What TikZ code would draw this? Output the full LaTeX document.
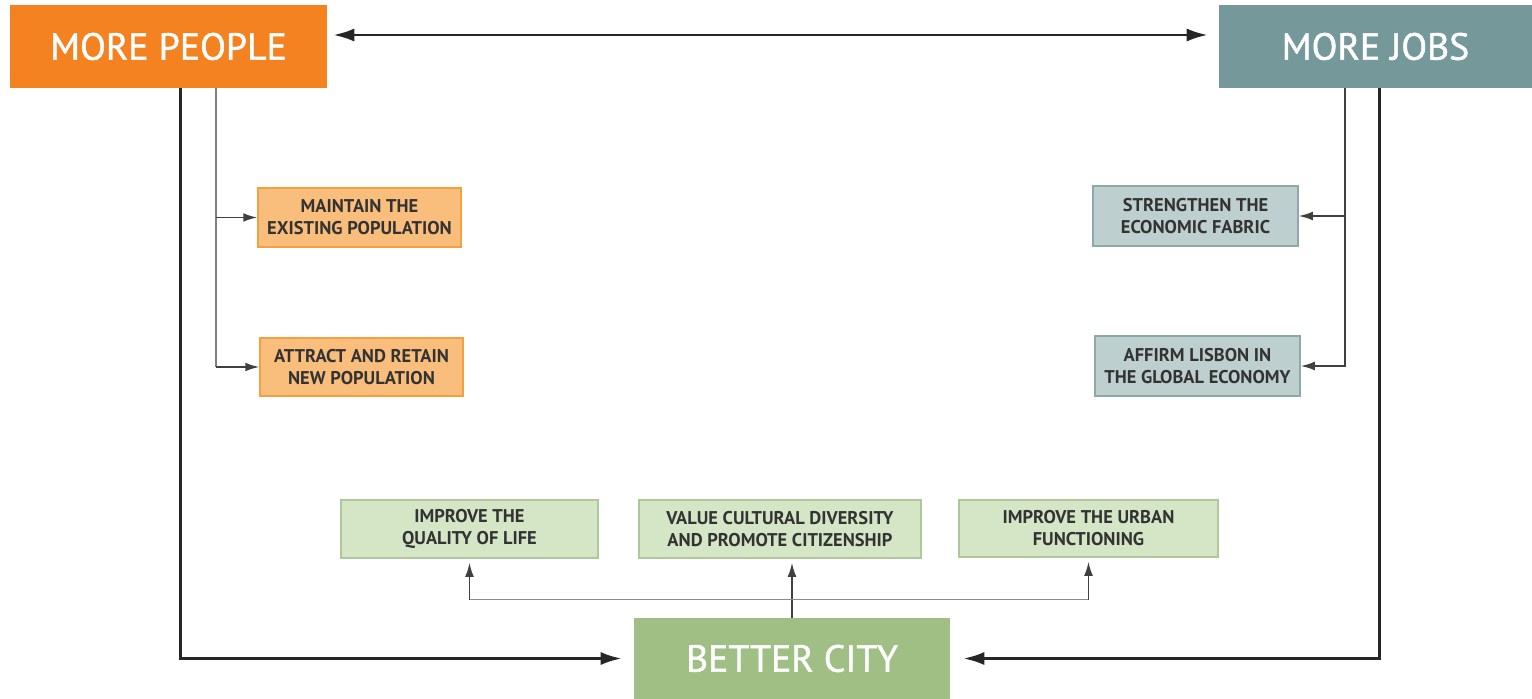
\documentclass[tikz,border=0pt]{standalone}
\usepackage{fontspec}
\setmainfont{PT Sans}
\newfontfamily\headfont{PT Sans}[RawFeature={embolden=1.2}]
\usepackage{tikz}
\usetikzlibrary{arrows.meta,calc,positioning}

\definecolor{peopleorange}{HTML}{F58220}
\definecolor{peoplelight}{HTML}{F9BE7C}
\definecolor{peopleedge}{HTML}{F2A040}
\definecolor{jobsteal}{HTML}{75999A}
\definecolor{jobslight}{HTML}{BDD0CF}
\definecolor{jobsedge}{HTML}{8FA8A8}
\definecolor{citygreen}{HTML}{A0BF84}
\definecolor{citylight}{HTML}{D4E6C5}
\definecolor{cityedge}{HTML}{AFC79A}
\definecolor{labelgray}{HTML}{333333}

\begin{document}
\begin{tikzpicture}[>={Latex[length=8pt,width=5pt]}, x=0.02cm, y=-0.02cm,
  bigbox/.style={text=white, font=\headfont\fontsize{21.5}{24}\selectfont, inner sep=0pt},
  subbox/.style={draw, line width=0.8pt, text=labelgray, align=center,
    font=\bfseries\fontsize{10.5}{12.5}\selectfont, inner sep=0pt},
  mainline/.style={line width=1.6pt, black!85, >={Latex[length=12pt,width=7.5pt]}},
  branchline/.style={line width=1pt, black!75},
  thinline/.style={line width=0.6pt, black!45}]

  \useasboundingbox (0,0) rectangle (1532,699);

  % Main boxes
  \node[bigbox, fill=peopleorange, minimum width=6.34cm, minimum height=1.66cm]
    (people) at (168.5,46.5) {MORE PEOPLE};
  \node[bigbox, fill=jobsteal, minimum width=6.26cm, minimum height=1.66cm]
    (jobs) at (1375.5,46.5) {MORE JOBS};
  \node[bigbox, fill=citygreen, minimum width=6.32cm, minimum height=1.62cm]
    (city) at (792,658.5) {BETTER CITY};

  % People objectives
  \node[subbox, fill=peoplelight, draw=peopleedge, minimum width=4.06cm, minimum height=1.18cm]
    (maintain) at (359.5,217.5) {MAINTAIN THE\\EXISTING POPULATION};
  \node[subbox, fill=peoplelight, draw=peopleedge, minimum width=4.06cm, minimum height=1.16cm]
    (attract) at (361.5,367) {ATTRACT AND RETAIN\\NEW POPULATION};

  % Jobs objectives
  \node[subbox, fill=jobslight, draw=jobsedge, minimum width=4.1cm, minimum height=1.2cm]
    (strengthen) at (1195.5,216) {STRENGTHEN THE\\ECONOMIC FABRIC};
  \node[subbox, fill=jobslight, draw=jobsedge, minimum width=4.1cm, minimum height=1.2cm]
    (affirm) at (1197.5,366) {AFFIRM LISBON IN\\THE GLOBAL ECONOMY};

  % City objectives
  \node[subbox, fill=citylight, draw=cityedge, minimum width=5.14cm, minimum height=1.16cm]
    (quality) at (469.5,529) {IMPROVE THE\\QUALITY OF LIFE};
  \node[subbox, fill=citylight, draw=cityedge, minimum width=5.64cm, minimum height=1.16cm]
    (value) at (780,529) {VALUE CULTURAL DIVERSITY\\AND PROMOTE CITIZENSHIP};
  \node[subbox, fill=citylight, draw=cityedge, minimum width=5.18cm, minimum height=1.14cm]
    (urban) at (1088.5,528.5) {IMPROVE THE URBAN\\FUNCTIONING};

  % People <-> jobs
  \draw[mainline, <->, shorten <=0.12cm, shorten >=0.22cm]
    ([yshift=0.23cm]people.east) -- ([yshift=0.23cm]jobs.west);

  % Both feed the city
  \draw[mainline, ->, shorten >=0.24cm] ([xshift=3.42cm]people.south west) |- (city.west);
  \draw[mainline, ->, shorten >=0.26cm] ([xshift=-3.06cm]jobs.south east) |- (city.east);

  % Branches to the objectives
  \draw[branchline, black!50] ([xshift=4.12cm]people.south west) -- ([xshift=4.12cm]people.south west |- attract.west);
  \draw[branchline, ->] ([xshift=4.12cm]people.south west |- maintain.west) -- (maintain.west);
  \draw[branchline, ->] ([xshift=4.12cm]people.south west |- attract.west) -- (attract.west);
  \draw[branchline, ->] ([xshift=-3.74cm]jobs.south east) |- (strengthen.east);
  \draw[branchline, ->] ([xshift=-3.74cm]jobs.south east) |- (affirm.east);

  % City objectives
  \coordinate (fork) at ([yshift=0.36cm]city.north);
  \draw[branchline, ->, shorten >=0.08cm] (city.north) -- (city.north |- value.south);
  \draw[thinline] (fork -| quality.south) -- (fork -| urban.south);
  \draw[branchline, ->, shorten >=0.08cm] (fork -| quality.south) -- (quality.south);
  \draw[branchline, ->, shorten >=0.08cm] (fork -| urban.south) -- (urban.south);

\end{tikzpicture}
\end{document}
